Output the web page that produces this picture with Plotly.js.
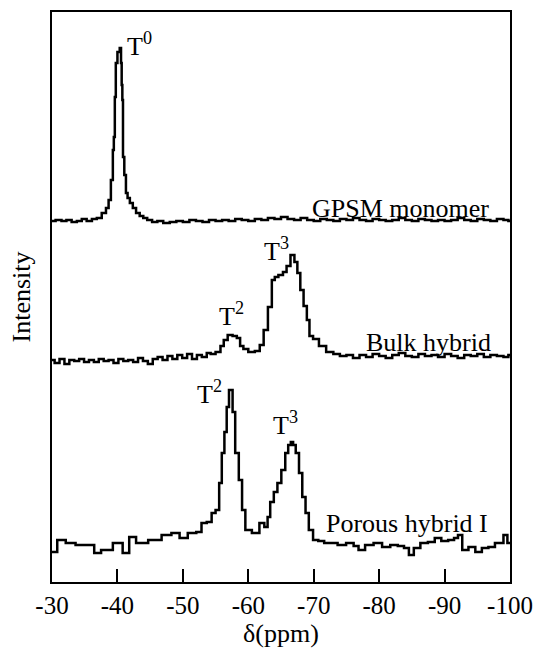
<!DOCTYPE html>
<html>
<head>
<meta charset="utf-8">
<script src="https://cdn.plot.ly/plotly-3.0.1.min.js"></script>
<style>html,body{margin:0;padding:0;background:#fff;}#chart{width:539px;height:653px;}</style>
</head>
<body>
<div id="chart"></div>
<script>
// Chemical shift (ppm) and offset intensities (arbitrary units)
var gpsmShift = [-30.0,-31.1,-31.8,-32.6,-33.4,-34.2,-34.9,-35.7,-36.5,-37.2,-38.0,-38.5,-38.8,-39.2,-39.4,-39.5,-39.7,-39.8,-40.2,-40.5,-40.6,-40.7,-40.8,-40.9,-41.2,-41.4,-41.7,-42.1,-42.6,-43.1,-43.7,-44.2,-44.9,-45.7,
  -46.5,-47.5,-48.5,-49.5,-50.5,-51.5,-52.5,-53.5,-54.5,-55.5,-56.5,-57.5,-58.5,-59.5,-60.5,-61.5,-62.5,-63.5,-64.5,-65.5,-66.5,-67.5,-68.5,-69.5,-70.5,-71.5,-72.5,-73.5,-74.5,-75.5,-76.5,-77.5,-78.5,-79.5,-80.5,-81.5,-82.5,-83.5,-84.5,-85.5,-86.5,-87.5,-88.5,-89.5,-90.5,-91.5,-92.5,-93.5,-94.5,-95.5,-96.5,-97.5,-98.5,-99.5,-100.0];
var gpsmIntensity = [361,362,361,362,360,361,363,361,363,364,369,374,382,402,432,445,485,519,530,534,519,497,482,425,407,389,384,379,374,369,366,364,362,360,
  361,359,360,361,360,362,361,360,362,361,362,361,363,362,361,363,362,364,363,365,363,362,364,362,361,363,362,361,363,362,364,362,361,363,362,361,362,364,362,361,363,362,361,362,361,362,364,362,361,363,362,361,363,362,361];

var bulkShift = [-30.0,-30.8,-31.5,-32.3,-33.0,-33.8,-34.5,-35.3,-36.0,-36.8,-37.5,-38.3,-39.0,-39.8,-40.5,-41.3,-42.0,-42.8,-43.5,-44.3,-45.0,-45.8,-46.5,-47.3,-48.0,-48.8,-49.5,-50.3,-51.0,-51.8,-52.5,-53.3,-54.0,-54.5,-55.5,-56.0,-56.5,-57.2,-58.0,-58.5,-59.0,-59.5,-60.5,-61.5,-62.0,-62.7,-63.3,-63.9,-64.2,-65.0,-65.6,-66.1,-66.8,-67.3,-67.7,-68.2,-68.7,-69.2,-69.5,-70.3,-71.3,-72.5,-73.5,-74.5,-75.5,
  -76.5,-77.5,-78.5,-79.5,-80.5,-81.5,-82.5,-83.5,-84.5,-85.5,-86.5,-87.5,-88.5,-89.5,-90.5,-91.5,-92.5,-93.5,-94.5,-95.5,-96.5,-97.5,-98.5,-99.5,-100.0];
var bulkIntensity = [222,219,223,218,222,221,223,220,222,220,223,221,222,219,223,221,222,220,224,221,218,223,225,222,226,223,227,224,228,223,227,225,229,228,230,236,242,247,246,244,236,233,230,231,237,252,275,302,305,307,310,316,327,320,309,292,276,262,246,243,236,230,228,226,227,
  224,227,225,228,226,224,227,229,226,225,228,226,227,225,228,226,224,227,226,228,225,227,226,225,227];

var porousShift = [-30.0,-31.6,-32.6,-34.6,-36.2,-36.7,-38.3,-40.3,-41.3,-42.3,-43.4,-46.0,-47.5,-49.0,-50.0,-51.5,-52.6,-53.1,-54.2,-54.6,-55.4,-55.7,-56.2,-56.5,-56.9,-57.2,-57.5,-57.7,-58.3,-58.8,-59.3,-59.8,-61.3,-62.1,-62.8,-63.1,-63.6,-64.2,-64.7,-65.4,-65.9,-66.3,-66.7,-67.0,-67.5,-68.0,-68.5,-69.0,-69.5,-70.3,-71.1,-72.1,-73.1,-74.2,-75.7,-76.5,-77.2,-78.5,-79.8,-81.1,-82.3,-83.4,-84.2,-84.9,-85.7,-86.9,-88.0,-89.0,-90.0,-91.1,-91.8,-92.3,-93.1,-94.2,-95.2,-96.2,-97.2,-98.2,-98.8,-99.2,-100.0];
var porousIntensity = [30,42,39,37,37,29,32,39,29,45,39,42,47,49,44,49,50,59,60,69,72,99,129,150,175,192,192,170,129,102,72,52,49,59,55,65,80,90,99,112,129,137,140,137,129,109,85,69,52,42,41,39,39,37,39,36,32,37,39,35,37,36,34,27,34,39,40,44,41,42,44,47,32,35,30,34,35,39,39,47,39];

var tickValues = [-30,-40,-50,-60,-70,-80,-90,-100];
var tickLabels = ['-30','-40','-50','-60','-70','-80','-90','-100'];

var serif = '"Liberation Serif", "Times New Roman", serif';
var lineStyle = {color: '#000', width: 2.5, shape: 'hvh'};

var traces = [
  {x: gpsmShift, y: gpsmIntensity, name: 'GPSM monomer', mode: 'lines', line: lineStyle, hoverinfo: 'x+y'},
  {x: bulkShift, y: bulkIntensity, name: 'Bulk hybrid', mode: 'lines', line: lineStyle, hoverinfo: 'x+y'},
  {x: porousShift, y: porousIntensity, name: 'Porous hybrid I', mode: 'lines', line: lineStyle, hoverinfo: 'x+y'}
];

function label(x, y, text) {
  return {x: x, y: y, xref: 'x', yref: 'y', text: text, showarrow: false,
          xanchor: 'left', yanchor: 'middle', font: {family: serif, size: 26, color: '#000'}};
}

var layout = {
  width: 539, height: 653,
  margin: {l: 52, r: 29, t: 12, b: 71},
  paper_bgcolor: '#fff', plot_bgcolor: '#fff',
  showlegend: false,
  font: {family: serif, color: '#000', size: 25},
  xaxis: {
    range: [-30, -100], showgrid: false, zeroline: false,
    showline: true, linecolor: '#000', linewidth: 2, mirror: true,
    ticks: 'inside', ticklen: 13, tickwidth: 2, tickcolor: '#000',
    tickvals: tickValues, ticktext: tickLabels,
    tickfont: {family: serif, size: 25, color: '#000'},
    title: {text: 'δ(ppm)', font: {family: serif, size: 26, color: '#000'}, standoff: 4}
  },
  yaxis: {
    range: [0, 570], showgrid: false, zeroline: false,
    showline: true, linecolor: '#000', linewidth: 2, mirror: true,
    ticks: '', showticklabels: false,
    title: {text: 'Intensity', font: {family: serif, size: 26, color: '#000'}, standoff: 12}
  },
  annotations: [
    label(-41.2, 538, 'T<sup>0</sup>'),
    label(-69.5, 374, 'GPSM monomer'),
    label(-55.2, 268, 'T<sup>2</sup>'),
    label(-62.15, 333, 'T<sup>3</sup>'),
    label(-77.7, 240, 'Bulk hybrid'),
    label(-51.85, 190, 'T<sup>2</sup>'),
    label(-63.4, 159, 'T<sup>3</sup>'),
    label(-71.5, 59, 'Porous hybrid I')
  ]
};

Plotly.newPlot('chart', traces, layout, {displayModeBar: false, staticPlot: true});
</script>
</body>
</html>
